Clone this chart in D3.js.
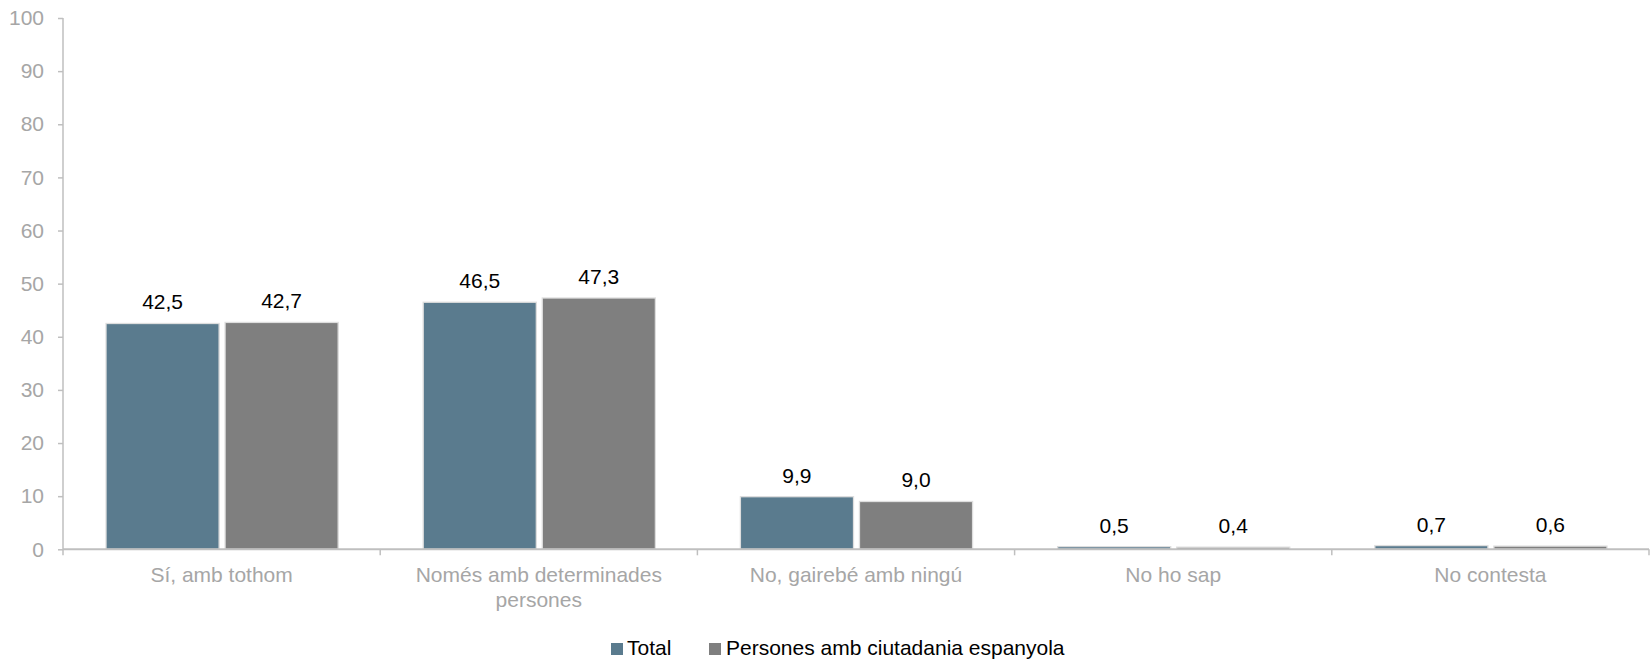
<!DOCTYPE html>
<html>
<head>
<meta charset="utf-8">
<script src="https://cdn.jsdelivr.net/npm/d3@7"></script>
<style>
  html, body { margin: 0; padding: 0; background: #ffffff; }
  svg { display: block; font-family: "Liberation Sans", Arial, sans-serif; }
</style>
</head>
<body>
<svg id="chart" width="1652" height="662"></svg>
<script>
const categories = ["Sí, amb tothom", "Només amb determinades\npersones", "No, gairebé amb ningú", "No ho sap", "No contesta"];
const seriesNames = ["Total", "Persones amb ciutadania espanyola"];
const totalValues = [42.5, 46.5, 9.9, 0.5, 0.7];
const spanishValues = [42.7, 47.3, 9.0, 0.4, 0.6];
const yTicks = [0, 10, 20, 30, 40, 50, 60, 70, 80, 90, 100];
const colors = ["#5a7b8e", "#7f7f7f"];

const seriesValues = [totalValues, spanishValues];
const svg = d3.select("#chart");
const axisColor = "#bfbfbf";
const tickTextColor = "#a6a6a6";

const x0 = d3.scaleBand().domain(categories).range([63, 1649]).paddingInner(0).paddingOuter(0);
const bw = x0.bandwidth();
const x1 = d3.scaleBand().domain(seriesNames).range([0.1356 * bw, 0.8675 * bw]).paddingInner(0.05);
const y = d3.scaleLinear().domain([0, 100]).range([549.3, 18]);

// Y axis
const yAxis = d3.axisLeft(y).tickValues(yTicks).tickSize(5).tickPadding(14).tickFormat(d3.format("d"));
const gy = svg.append("g").attr("transform", "translate(63,0)").call(yAxis);
gy.select(".domain").attr("stroke", axisColor).attr("stroke-width", 1.5).attr("d", `M0,${y(100)}V${y(0)}`);
gy.selectAll(".tick line").attr("stroke", axisColor).attr("stroke-width", 1.5);
gy.selectAll(".tick text").attr("fill", tickTextColor).style("font-size", "21px").style("font-family", "'Liberation Sans', Arial, sans-serif");

// Bars
const groups = svg.append("g").selectAll("g").data(categories).join("g")
  .attr("transform", d => `translate(${x0(d)},0)`);

groups.each(function(cat, ci) {
  const g = d3.select(this);
  seriesNames.forEach((s, si) => {
    const v = seriesValues[si][ci];
    g.append("rect")
      .attr("x", x1(s))
      .attr("y", y(v))
      .attr("width", x1.bandwidth())
      .attr("height", y(0) - y(v))
      .attr("fill", colors[si])
      .attr("stroke", "#dedede")
      .attr("stroke-width", 1.3);
    g.append("text")
      .attr("x", x1(s) + x1.bandwidth() / 2)
      .attr("y", y(v) - 14)
      .attr("text-anchor", "middle")
      .attr("fill", "#000000")
      .style("font-size", "21px")
      .text(d3.format(".1f")(v).replace(".", ","));
  });
});

// X axis
const gx = svg.append("g");
gx.append("line")
  .attr("x1", 63).attr("x2", 1649)
  .attr("y1", y(0)).attr("y2", y(0))
  .attr("stroke", axisColor).attr("stroke-width", 2);
const boundaries = categories.map(c => x0(c)).concat([x0.range()[1]]);
gx.selectAll("line.tk").data(boundaries).join("line")
  .attr("class", "tk")
  .attr("x1", d => d).attr("x2", d => d)
  .attr("y1", y(0)).attr("y2", y(0) + 6)
  .attr("stroke", axisColor).attr("stroke-width", 1.5);
gx.selectAll("text.cat").data(categories).join("text")
  .attr("class", "cat")
  .attr("text-anchor", "middle")
  .attr("fill", tickTextColor)
  .style("font-size", "21px")
  .each(function(c) {
    const t = d3.select(this);
    c.split("\n").forEach((line, i) => {
      t.append("tspan")
        .attr("x", x0(c) + bw / 2)
        .attr("y", 582 + i * 24.5)
        .text(line);
    });
  });

// Legend
const legendItems = [
  { name: seriesNames[0], color: colors[0], sx: 611, tx: 627 },
  { name: seriesNames[1], color: colors[1], sx: 709, tx: 726 }
];
const lg = svg.append("g");
legendItems.forEach(it => {
  lg.append("rect").attr("x", it.sx).attr("y", 643).attr("width", 12).attr("height", 12).attr("fill", it.color);
  lg.append("text").attr("x", it.tx).attr("y", 655).attr("fill", "#000000").style("font-size", "21px").text(it.name);
});
</script>
</body>
</html>
